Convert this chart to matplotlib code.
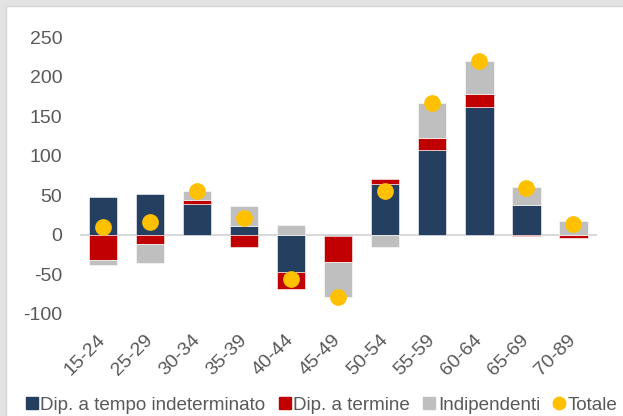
import matplotlib.pyplot as plt
import numpy as np
from matplotlib.patches import Rectangle
from matplotlib.lines import Line2D

# age classes and contributions (thousands)
categories = ["15-24", "25-29", "30-34", "35-39", "40-44", "45-49",
              "50-54", "55-59", "60-64", "65-69", "70-89"]
indeterminato = [48, 51, 39, 11, -47, -1, 64, 107, 161, 38, 0]
termine = [-32, -11, 5, -15, -21, -33, 7, 15, 17, -2, -4]
indipendenti = [-6, -24, 12, 25, 12, -44, -15, 44, 42, 23, 18]
totale = [10, 16, 56, 21, -56, -78, 56, 166, 220, 59, 14]

series_names = ["Dip. a tempo indeterminato", "Dip. a termine", "Indipendenti"]
colors = ["#243F60", "#C00000", "#BFBFBF"]
dot_color = "#FFC000"
text_color = "#595959"

plt.rcParams.update({
    "font.family": ["Liberation Sans", "DejaVu Sans"],
    "font.size": 14,
    "axes.unicode_minus": False,
})

W, H = 623, 416
fig = plt.figure(figsize=(W / 100, H / 100), dpi=100, facecolor="#E3E3E3")
fig.patches.append(Rectangle((6 / W, -0.1), 1.2, (H - 6) / H + 0.1,
                             transform=fig.transFigure, facecolor="white",
                             edgecolor="#D6D6D6", lw=1, zorder=-5))

ax = fig.add_axes([79.5 / W, (H - 314) / H, (597 - 79.5) / W, (314 - 37) / H])
ax.set_facecolor("none")

x = np.arange(len(categories))
pos_bottom = np.zeros(len(categories))
neg_bottom = np.zeros(len(categories))
for vals, col in zip([indeterminato, termine, indipendenti], colors):
    v = np.array(vals, dtype=float)
    bottom = np.where(v >= 0, pos_bottom, neg_bottom)
    ax.bar(x, v, width=0.6, bottom=bottom, color=col, edgecolor="white",
           linewidth=0.4, zorder=2)
    pos_bottom += np.where(v >= 0, v, 0)
    neg_bottom += np.where(v < 0, v, 0)

ax.axhline(0, color="#D9D9D9", lw=1.5, zorder=1)
ax.scatter(x, totale, s=145, color=dot_color, zorder=3, linewidths=0)

ax.set_xlim(-0.5, len(categories) - 0.5)
ax.set_ylim(-100, 250)
ax.set_yticks(np.arange(-100, 251, 50))
ax.set_xticks(x)
ax.set_xticklabels(categories, rotation=45, ha="right", va="center",
                   rotation_mode="anchor")
ax.tick_params(axis="both", length=0, colors=text_color, labelsize=14)
ax.tick_params(axis="y", pad=12.5)
ax.tick_params(axis="x", pad=17)
for s in ax.spines.values():
    s.set_visible(False)

handles = [Line2D([], [], marker="s", ls="", color=c, markersize=9) for c in colors]
handles.append(Line2D([], [], marker="o", ls="", color=dot_color, markersize=9))
leg = fig.legend(handles, series_names + ["Totale"], loc="center",
                 bbox_to_anchor=(322 / W, (H - 405) / H), ncol=4, frameon=False,
                 handlelength=0.6, handletextpad=0.15, columnspacing=0.72,
                 borderpad=0, fontsize=13.6, labelcolor=text_color)

fig.savefig("out.png", dpi=100, facecolor=fig.get_facecolor())
